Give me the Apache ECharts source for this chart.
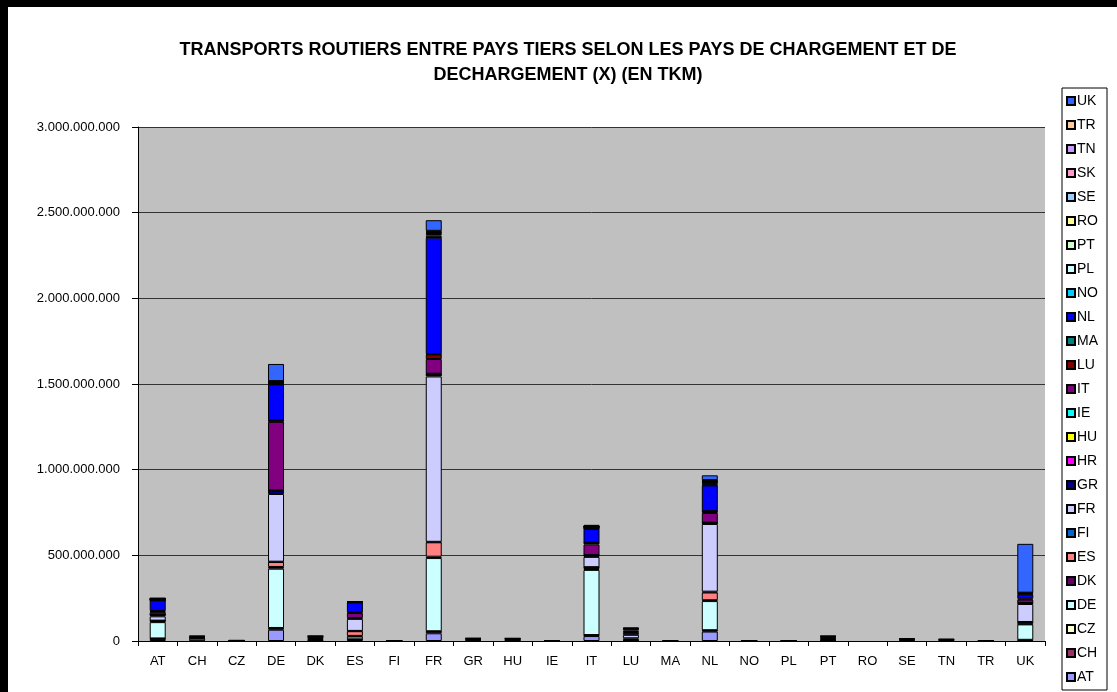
<!DOCTYPE html>
<html>
<head>
<meta charset="utf-8">
<script src="https://cdn.jsdelivr.net/npm/echarts@6/dist/echarts.min.js"></script>
<style>
  html, body { margin: 0; padding: 0; background: #fff; }
  .frame { width: 1109px; height: 685px; border-top: 7px solid #000; border-left: 8px solid #000; }
  .echart { width: 1109px; height: 685px; }
</style>
</head>
<body>
<div class="frame"><div class="echart" id="echart"></div></div>
<script>
// pays de chargement (axe X)
const categories = ['AT', 'CH', 'CZ', 'DE', 'DK', 'ES', 'FI', 'FR', 'GR', 'HU', 'IE', 'IT', 'LU', 'MA', 'NL', 'NO', 'PL', 'PT', 'RO', 'SE', 'TN', 'TR', 'UK']
// pays de déchargement (séries empilées), en millions de tkm
const AT = [10, 2, 1, 66, 2, 8, 0, 45, 0, 2, 0, 29, 3, 0, 55, 0, 0, 2, 0, 0, 0, 0, 5]
const CH = [3, 0, 0, 8, 0, 2, 0, 10, 0, 0, 0, 5, 3, 0, 6, 0, 0, 0, 0, 0, 0, 0, 2]
const CZ = [2, 0, 0, 2, 0, 0, 0, 2, 0, 0, 0, 1, 0, 0, 2, 0, 0, 0, 0, 0, 0, 0, 0]
const DE = [95, 12, 1, 346, 5, 16, 1, 427, 4, 4, 0, 380, 10, 0, 170, 1, 1, 4, 0, 5, 3, 1, 90]
const DK = [5, 0, 0, 10, 0, 4, 0, 8, 0, 0, 0, 5, 0, 0, 5, 0, 0, 0, 0, 0, 0, 0, 3]
const ES = [3, 0, 0, 29, 0, 27, 0, 84, 0, 0, 0, 10, 0, 1, 45, 0, 0, 5, 0, 0, 0, 0, 10]
const FI = [1, 0, 0, 2, 0, 2, 0, 3, 0, 0, 0, 1, 0, 0, 5, 0, 0, 0, 0, 0, 0, 0, 1]
const FR = [25, 4, 0, 395, 4, 70, 0, 965, 4, 3, 1, 60, 20, 2, 395, 1, 1, 5, 0, 4, 4, 1, 105]
const GR = [8, 2, 1, 18, 6, 5, 1, 10, 0, 0, 0, 8, 12, 0, 5, 0, 0, 4, 0, 3, 2, 0, 5]
const HR = [0, 0, 0, 0, 0, 0, 0, 1, 0, 0, 0, 0, 0, 0, 0, 0, 0, 0, 0, 0, 0, 0, 0]
const HU = [2, 0, 0, 2, 0, 0, 0, 3, 0, 0, 0, 2, 0, 0, 2, 0, 0, 0, 0, 0, 0, 0, 1]
const IE = [1, 0, 0, 1, 0, 0, 0, 2, 0, 0, 0, 1, 0, 0, 1, 0, 0, 0, 0, 0, 0, 0, 0]
const IT = [15, 2, 0, 400, 2, 29, 0, 86, 4, 3, 0, 62, 5, 0, 56, 0, 0, 0, 0, 0, 3, 1, 20]
const LU = [5, 0, 0, 8, 0, 4, 0, 25, 0, 0, 0, 9, 8, 0, 10, 0, 0, 0, 0, 0, 0, 0, 5]
const MA = [0, 0, 0, 1, 0, 0, 0, 3, 0, 0, 0, 1, 0, 0, 1, 0, 0, 0, 0, 0, 0, 0, 0]
const NL = [62, 6, 1, 210, 7, 58, 1, 680, 3, 3, 0, 80, 10, 0, 150, 1, 1, 5, 0, 3, 0, 0, 25]
const NO = [1, 0, 0, 2, 0, 0, 0, 3, 0, 0, 0, 1, 0, 0, 3, 0, 0, 0, 0, 0, 0, 0, 0]
const PL = [2, 0, 0, 5, 0, 2, 0, 10, 0, 0, 0, 5, 0, 0, 8, 0, 0, 0, 0, 0, 0, 0, 3]
const PT = [1, 0, 0, 2, 0, 0, 0, 8, 0, 0, 0, 1, 0, 0, 4, 0, 0, 3, 0, 0, 0, 0, 0]
const RO = [1, 0, 0, 1, 0, 0, 0, 3, 0, 0, 0, 1, 0, 0, 2, 0, 0, 0, 0, 0, 0, 0, 0]
const SE = [3, 0, 0, 5, 2, 2, 0, 5, 0, 0, 0, 5, 3, 0, 5, 0, 0, 0, 0, 0, 0, 0, 5]
const SK = [1, 0, 0, 1, 0, 0, 0, 3, 0, 0, 0, 1, 0, 0, 2, 0, 0, 0, 0, 0, 0, 0, 0]
const TN = [1, 0, 0, 2, 0, 0, 0, 5, 0, 0, 0, 1, 0, 0, 5, 0, 0, 0, 0, 0, 0, 0, 2]
const TR = [1, 0, 0, 1, 0, 0, 0, 3, 0, 0, 0, 1, 0, 0, 2, 0, 0, 0, 0, 0, 0, 0, 0]
const UK = [3, 2, 0, 100, 2, 3, 0, 62, 2, 1, 2, 8, 4, 0, 28, 0, 0, 2, 0, 0, 0, 0, 285]

const seriesNames = ['AT', 'CH', 'CZ', 'DE', 'DK', 'ES', 'FI', 'FR', 'GR', 'HR', 'HU', 'IE', 'IT', 'LU', 'MA', 'NL', 'NO', 'PL', 'PT', 'RO', 'SE', 'SK', 'TN', 'TR', 'UK']
const seriesValues = [AT, CH, CZ, DE, DK, ES, FI, FR, GR, HR, HU, IE, IT, LU, MA, NL, NO, PL, PT, RO, SE, SK, TN, TR, UK]
const yTicks = [0, 500, 1000, 1500, 2000, 2500, 3000]

// palette Excel
const colors = ['#9999FF', '#993366', '#FFFFCC', '#CCFFFF', '#660066', '#FF8080', '#0066CC', '#CCCCFF', '#000080', '#FF00FF',
  '#FFFF00', '#00FFFF', '#800080', '#800000', '#008080', '#0000FF', '#00CCFF', '#CCFFFF', '#CCFFCC', '#FFFF99',
  '#99CCFF', '#FF99CC', '#CC99FF', '#FFCC99', '#3366FF']

const font = 'Arial, "Liberation Sans", sans-serif'

function fmt (v) {
  return String(v * 1000000).replace(/\B(?=(\d{3})+(?!\d))/g, '.')
}

const echart = echarts.init(document.getElementById('echart'))
const option = {
  animation: false,
  textStyle: { fontFamily: font },
  title: {
    text: 'TRANSPORTS ROUTIERS ENTRE PAYS TIERS SELON LES PAYS DE CHARGEMENT ET DE\nDECHARGEMENT (X) (EN TKM)',
    left: 555,
    top: 26,
    textAlign: 'center',
    textStyle: { fontSize: 18, fontWeight: 'bold', color: '#000', fontFamily: font, lineHeight: 25 }
  },
  legend: {
    orient: 'vertical',
    left: 1054,
    top: 81,
    data: seriesNames.slice().reverse(),
    icon: 'rect',
    itemWidth: 8,
    itemHeight: 8,
    itemGap: 10,
    padding: [6, 9, 6, 4],
    backgroundColor: '#fff',
    borderColor: '#000',
    borderWidth: 1,
    borderRadius: 0,
    textStyle: { fontSize: 14, color: '#000', fontFamily: font, lineHeight: 14, padding: [0, 0, 0, -3] }
  },
  grid: {
    left: 130,
    right: 72,
    top: 120,
    bottom: 51,
    show: true,
    backgroundColor: '#C0C0C0',
    borderWidth: 0
  },
  xAxis: {
    type: 'category',
    data: categories,
    axisLine: { lineStyle: { color: '#000', width: 1 } },
    axisTick: { show: true, length: 5, lineStyle: { color: '#000' } },
    axisLabel: { color: '#000', fontSize: 13, margin: 14 }
  },
  yAxis: {
    type: 'value',
    min: yTicks[0],
    max: yTicks[yTicks.length - 1],
    interval: yTicks[1] - yTicks[0],
    axisLine: { show: true, lineStyle: { color: '#000', width: 1 } },
    axisTick: { show: true, length: 6, lineStyle: { color: '#000' } },
    axisLabel: { color: '#000', fontSize: 13, margin: 18, formatter: fmt },
    splitLine: { lineStyle: { color: '#333', width: 1 } }
  },
  series: seriesNames.map((name, i) => ({
    name: name,
    type: 'bar',
    stack: 'total',
    barWidth: 16,
    data: seriesValues[i].map(v => (v === 0 ? '-' : v)),
    itemStyle: { color: colors[i], borderColor: '#000', borderWidth: 1 }
  }))
}
echart.setOption(option)
</script>
</body>
</html>
